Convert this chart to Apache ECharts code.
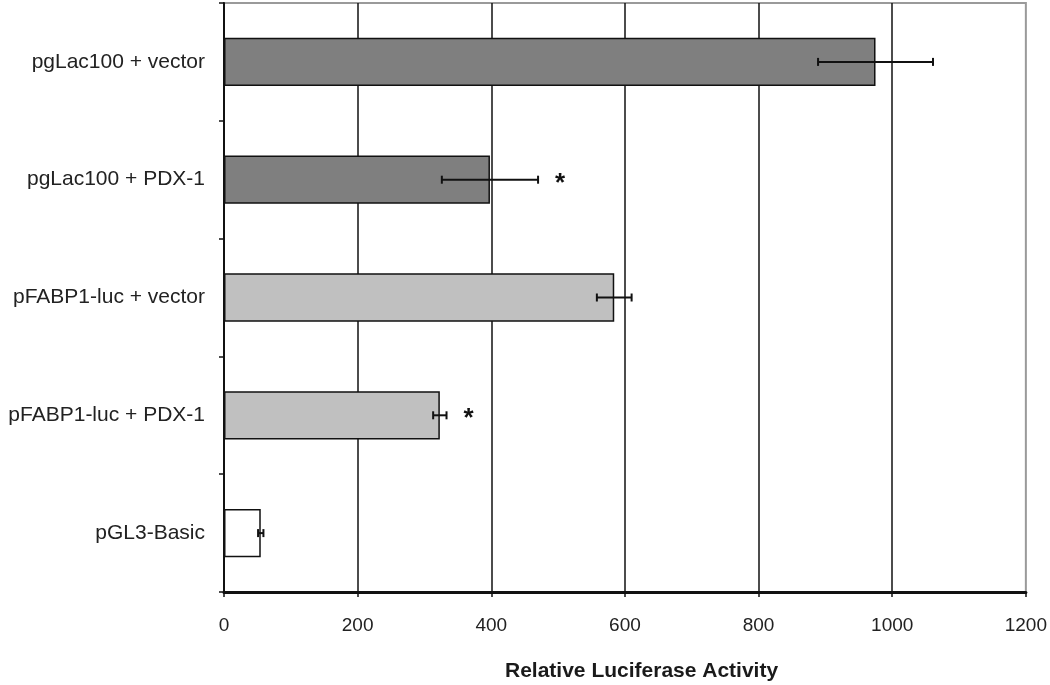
<!DOCTYPE html>
<html>
<head>
<meta charset="utf-8">
<script src="https://cdn.jsdelivr.net/npm/echarts@6/dist/echarts.min.js"></script>
<style>html,body{margin:0;padding:0;background:#fff}#c{width:1050px;height:685px}</style>
</head>
<body>
<div id="c"></div>
<script>
const categories = ['pgLac100 + vector', 'pgLac100 + PDX-1', 'pFABP1-luc + vector', 'pFABP1-luc + PDX-1', 'pGL3-Basic'];
const values = [975, 398, 584, 323, 55];
const errors = [86, 72, 26, 10, 4];
const significant = [false, true, false, true, false];
const barColors = ['#7f7f7f', '#7f7f7f', '#c0c0c0', '#c0c0c0', '#ffffff'];
const xTicks = [0, 200, 400, 600, 800, 1000, 1200];
const xTitle = 'Relative Luciferase Activity';

const chart = echarts.init(document.getElementById('c'));
chart.setOption({
  animation: false,
  title: {
    text: xTitle, left: 500, top: 656,
    textStyle: { fontFamily: 'Liberation Sans', fontWeight: 'bold', fontSize: 21, color: '#1a1a1a' }
  },
  grid: { left: 224, right: 24, top: 3, bottom: 93, show: true, borderColor: '#9a9a9a', borderWidth: 2, backgroundColor: 'transparent' },
  xAxis: {
    type: 'value', min: xTicks[0], max: xTicks[xTicks.length - 1], interval: 200,
    axisLine: { show: true, lineStyle: { color: '#111', width: 3 } },
    axisTick: { show: true, length: 5, lineStyle: { color: '#111', width: 1.5 } },
    axisLabel: { fontFamily: 'Liberation Sans', fontSize: 19, color: '#222', margin: 24, formatter: function (v) { return String(v); } },
    splitLine: { show: true, showMaxLine: false, lineStyle: { color: '#111', width: 1.5 } }
  },
  yAxis: {
    type: 'category', data: categories, inverse: true,
    axisLine: { show: true, lineStyle: { color: '#111', width: 2 } },
    axisTick: { show: true, inside: false, length: 5, lineStyle: { color: '#111', width: 1.5 } },
    axisLabel: { fontFamily: 'Liberation Sans', fontSize: 21, color: '#222', margin: 19 },
    splitLine: { show: false }
  },
  series: [
    {
      type: 'bar', barWidth: '41%', z: 3,
      data: values.map((v, i) => ({ value: v, itemStyle: { color: barColors[i] } })),
      itemStyle: { borderColor: '#111', borderWidth: 1.5 }
    },
    {
      type: 'custom', z: 5,
      data: values.map((v, i) => [i, v, errors[i], significant[i] ? 1 : 0]),
      encode: { x: 1, y: 0 },
      renderItem: function (params, api) {
        const c = api.value(0), v = api.value(1), e = api.value(2), s = api.value(3);
        const lo = api.coord([v - e, c]);
        const hi = api.coord([v + e, c]);
        const y = lo[1], h = 4;
        const style = { stroke: '#111', lineWidth: 2 };
        const children = [
          { type: 'line', shape: { x1: lo[0], y1: y, x2: hi[0], y2: y }, style: style },
          { type: 'line', shape: { x1: lo[0], y1: y - h, x2: lo[0], y2: y + h }, style: style },
          { type: 'line', shape: { x1: hi[0], y1: y - h, x2: hi[0], y2: y + h }, style: style }
        ];
        if (s) {
          children.push({ type: 'text', x: hi[0] + 22, y: y + 4,
            style: { text: '*', fill: '#111', font: 'bold 26px "Liberation Sans"', align: 'center', verticalAlign: 'middle' } });
        }
        return { type: 'group', children: children };
      }
    }
  ]
});
</script>
</body>
</html>
